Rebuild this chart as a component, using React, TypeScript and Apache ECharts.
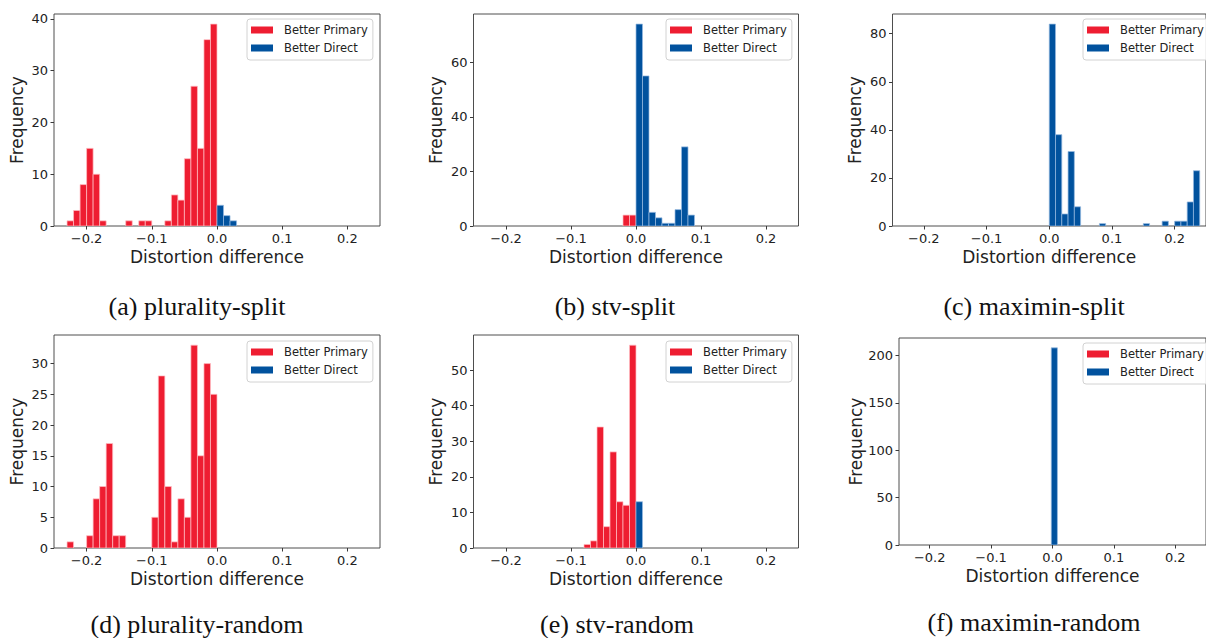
import React, { useEffect, useRef } from "react";
import * as echarts from "echarts";

// ---- data (bin left edge, count); bin width 0.01 ----
const BIN = 0.01;
const xTicks = [-0.2, -0.1, 0, 0.1, 0.2];

const primaryA: [number, number][] = [[-0.23, 1], [-0.22, 3], [-0.21, 8], [-0.2, 15], [-0.19, 10], [-0.18, 1], [-0.14, 1], [-0.12, 1], [-0.11, 1], [-0.08, 1], [-0.07, 6], [-0.06, 5], [-0.05, 13], [-0.04, 27], [-0.03, 15], [-0.02, 36], [-0.01, 39]];
const directA: [number, number][] = [[0.0, 4], [0.01, 2], [0.02, 1]];
const yTicksA = [0, 10, 20, 30, 40];

const primaryB: [number, number][] = [[-0.02, 4], [-0.01, 4]];
const directB: [number, number][] = [[0.0, 74], [0.01, 55], [0.02, 5], [0.03, 3], [0.04, 1], [0.05, 1], [0.06, 6], [0.07, 29], [0.08, 4]];
const yTicksB = [0, 20, 40, 60];

const primaryC: [number, number][] = [];
const directC: [number, number][] = [[0.0, 84], [0.01, 38], [0.02, 5], [0.03, 31], [0.04, 8], [0.08, 1], [0.15, 1], [0.18, 2], [0.2, 2], [0.21, 2], [0.22, 10], [0.23, 23]];
const yTicksC = [0, 20, 40, 60, 80];

const primaryD: [number, number][] = [[-0.23, 1], [-0.2, 2], [-0.19, 8], [-0.18, 10], [-0.17, 17], [-0.16, 2], [-0.15, 2], [-0.1, 5], [-0.09, 28], [-0.08, 10], [-0.07, 1], [-0.06, 8], [-0.05, 5], [-0.04, 33], [-0.03, 15], [-0.02, 30], [-0.01, 25]];
const directD: [number, number][] = [];
const yTicksD = [0, 5, 10, 15, 20, 25, 30];

const primaryE: [number, number][] = [[-0.08, 1], [-0.07, 2], [-0.06, 34], [-0.05, 6], [-0.04, 27], [-0.03, 13], [-0.02, 12], [-0.01, 57]];
const directE: [number, number][] = [[0.0, 13]];
const yTicksE = [0, 10, 20, 30, 40, 50];

const primaryF: [number, number][] = [];
const directF: [number, number][] = [[-0.002, 208]];
const yTicksF = [0, 50, 100, 150, 200];

const seriesNames = ["Better Primary", "Better Direct"];
const captions = ["(a) plurality-split", "(b) stv-split", "(c) maximin-split", "(d) plurality-random", "(e) stv-random", "(f) maximin-random"];

const RED = "#EE1D31";
const BLUE = "#01529E";
const TXT = "#222";
const FONT = "DejaVu Sans";

const panels = [
  { primary: primaryA, direct: directA, yTicks: yTicksA, grid: { left: 54, top: 14, width: 326, height: 212 }, legend: { left: 247, top: 19 }, cap: { x: 197, y: 306 } },
  { primary: primaryB, direct: directB, yTicks: yTicksB, grid: { left: 473.5, top: 14, width: 325, height: 212 }, legend: { left: 666, top: 19 }, cap: { x: 615, y: 306 } },
  { primary: primaryC, direct: directC, yTicks: yTicksC, grid: { left: 892.5, top: 14, width: 325, height: 212 }, legend: { left: 1083, top: 19 }, cap: { x: 1034, y: 306 } },
  { primary: primaryD, direct: directD, yTicks: yTicksD, grid: { left: 54, top: 335, width: 326, height: 213 }, legend: { left: 247, top: 341 }, cap: { x: 197, y: 624 } },
  { primary: primaryE, direct: directE, yTicks: yTicksE, grid: { left: 473.5, top: 335, width: 325, height: 213 }, legend: { left: 666, top: 341 }, cap: { x: 617, y: 624 } },
  { primary: primaryF, direct: directF, yTicks: yTicksF, grid: { left: 899, top: 338, width: 322, height: 207 }, legend: { left: 1083, top: 343 }, cap: { x: 1034, y: 622 } },
];

function fmtX(v: number) {
  const s = Math.abs(v).toFixed(1);
  return v < -1e-9 ? "\u2212" + s : s;
}

function makeRender(fill: string, edge: string) {
  return (params: any, api: any) => {
    const x0 = api.value(0);
    const y = api.value(1);
    const p0 = api.coord([x0, y]);
    const p1 = api.coord([x0 + BIN, 0]);
    return {
      type: "rect",
      shape: { x: p0[0], y: p0[1], width: p1[0] - p0[0], height: p1[1] - p0[1] },
      style: { fill, stroke: edge, lineWidth: 0.8 },
    };
  };
}

export default function App() {
  const ref = useRef<HTMLDivElement>(null);
  useEffect(() => {
    if (!ref.current) return;
    const chart = echarts.init(ref.current, undefined, { renderer: "svg" });
    const grids: any[] = [];
    const xAxes: any[] = [];
    const yAxes: any[] = [];
    const series: any[] = [];
    const legends: any[] = [];
    const graphics: any[] = [];
    panels.forEach((p, i) => {
      grids.push({ ...p.grid, show: true, borderColor: "#3a3a3a", borderWidth: 0.9, backgroundColor: "transparent" });
      xAxes.push({
        type: "value", gridIndex: i, min: -0.25, max: 0.25, position: "bottom",
        name: "Distortion difference", nameLocation: "middle", nameGap: 22,
        nameTextStyle: { fontFamily: FONT, fontSize: 17, color: TXT },
        axisLine: { show: false, onZero: false },
        axisTick: { show: true, length: 3.5, lineStyle: { color: "#3a3a3a" }, customValues: xTicks },
        axisLabel: { fontFamily: FONT, fontSize: 13, color: TXT, margin: 6, customValues: xTicks, formatter: (v: number) => fmtX(v) },
        splitLine: { show: false },
      });
      const maxCount = Math.max(...p.primary.map((d) => d[1]), ...p.direct.map((d) => d[1]));
      yAxes.push({
        type: "value", gridIndex: i, min: 0, max: maxCount * 1.05, position: "left",
        name: "Frequency", nameLocation: "middle", nameGap: 29, nameRotate: 90,
        nameTextStyle: { fontFamily: FONT, fontSize: 17, color: TXT },
        axisLine: { show: false, onZero: false },
        axisTick: { show: true, length: 3.5, lineStyle: { color: "#3a3a3a" }, customValues: p.yTicks },
        axisLabel: { fontFamily: FONT, fontSize: 13, color: TXT, margin: 6, customValues: p.yTicks, formatter: (v: number) => String(v) },
        splitLine: { show: false },
      });
      series.push({
        type: "custom", name: seriesNames[0], xAxisIndex: i, yAxisIndex: i, data: p.primary,
        encode: { x: 0, y: 1 }, clip: true, itemStyle: { color: RED }, color: RED,
        renderItem: makeRender(RED, "rgba(255,190,195,0.9)"),
      });
      series.push({
        type: "custom", name: seriesNames[1], xAxisIndex: i, yAxisIndex: i, data: p.direct,
        encode: { x: 0, y: 1 }, clip: true, itemStyle: { color: BLUE }, color: BLUE,
        renderItem: makeRender(BLUE, "rgba(150,185,225,0.9)"),
      });
      legends.push({
        left: p.legend.left, top: p.legend.top, orient: "vertical", selectedMode: false,
        data: [
          { name: seriesNames[0], icon: "rect", itemStyle: { color: RED } },
          { name: seriesNames[1], icon: "rect", itemStyle: { color: BLUE } },
        ],
        itemWidth: 22, itemHeight: 7, itemGap: 4,
        padding: [4, 5, 5, 4],
        borderColor: "#d2d2d2", borderWidth: 1, borderRadius: 3,
        backgroundColor: "rgba(255,255,255,0.85)",
        textStyle: { fontFamily: FONT, fontSize: 11.5, color: TXT, lineHeight: 14, padding: [0, 0, 0, 6] },
      });
      graphics.push({
        type: "text", x: p.cap.x, y: p.cap.y,
        style: { text: captions[i], fontFamily: "Liberation Serif", fontSize: 26, fill: "#111", textAlign: "center", textVerticalAlign: "middle" },
      });
    });
    chart.setOption({
      animation: false,
      backgroundColor: "#fff",
      grid: grids,
      xAxis: xAxes,
      yAxis: yAxes,
      series,
      legend: legends,
      graphic: graphics,
    });
    return () => chart.dispose();
  }, []);
  return <div ref={ref} style={{ position: "absolute", left: 0, top: 0, width: 1206, height: 638 }} />;
}
